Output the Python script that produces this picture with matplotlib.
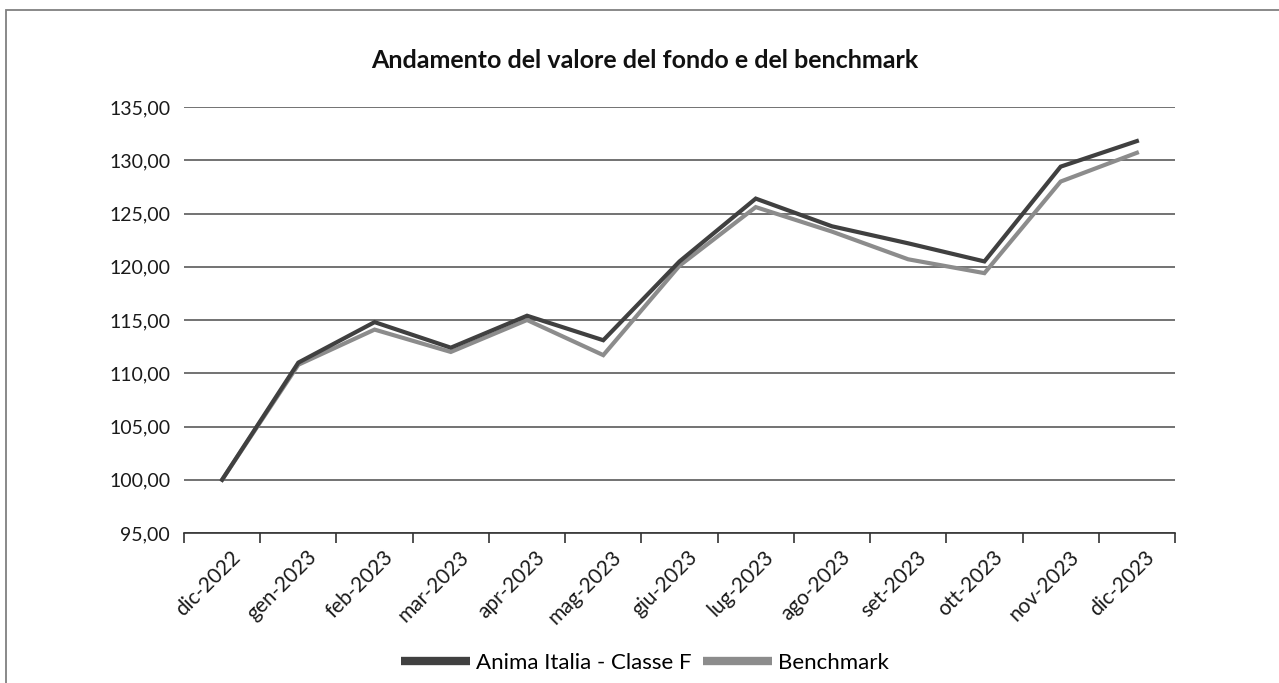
import matplotlib
matplotlib.use("Agg")
import matplotlib.pyplot as plt
from matplotlib.lines import Line2D
from matplotlib.patches import Rectangle
from matplotlib.ticker import FuncFormatter, FixedLocator, NullFormatter
from matplotlib.transforms import ScaledTranslation
import numpy as np

plt.rcParams['font.family'] = ['Lato', 'DejaVu Sans']

months = ["dic-2022", "gen-2023", "feb-2023", "mar-2023", "apr-2023", "mag-2023",
          "giu-2023", "lug-2023", "ago-2023", "set-2023", "ott-2023", "nov-2023", "dic-2023"]
fondo = [100.0, 111.0, 114.8, 112.4, 115.4, 113.1, 120.5, 126.4, 123.8, 122.2, 120.5, 129.4, 131.8]
benchmark = [100.0, 110.8, 114.1, 112.0, 115.0, 111.7, 120.1, 125.6, 123.3, 120.7, 119.4, 128.0, 130.7]
y_ticks = [95, 100, 105, 110, 115, 120, 125, 130, 135]

W, H = 1279, 683
fig = plt.figure(figsize=(W / 100, H / 100), dpi=100)
fig.patch.set_facecolor("white")

# outer chart frame
fig.add_artist(Rectangle((6 / W, -0.1), 1.2, (H - 10) / H + 0.1, transform=fig.transFigure,
                         fill=False, edgecolor="#808080", linewidth=1.3))

ax = fig.add_axes([184 / W, 150 / H, (1175 - 184) / W, 426 / H])
x = np.arange(len(months))
c_fondo = "#404040"
c_bench = "#8c8c8c"
ax.plot(x, benchmark, color=c_bench, linewidth=3, solid_joinstyle="miter", zorder=3)
ax.plot(x, fondo, color=c_fondo, linewidth=3, solid_joinstyle="miter", zorder=4)

ax.set_xlim(-0.5, len(months) - 0.5)
ax.set_ylim(95, 135)
ax.set_yticks(y_ticks)
ax.yaxis.set_major_formatter(FuncFormatter(lambda v, p: f"{v:.2f}".replace(".", ",")))
ax.grid(axis="y", color="#5a5a5a", linewidth=1.2, zorder=1)
ax.set_axisbelow(True)
for s in ["left", "right", "top"]:
    ax.spines[s].set_visible(False)
ax.spines["bottom"].set_color("#333333")
ax.spines["bottom"].set_linewidth(1.2)
ax.tick_params(axis="y", length=0, pad=10, labelsize=14, colors="#1a1a1a")

# category ticks sit between months; month labels are rotated under each point
ax.set_xticks(x)
ax.xaxis.set_major_formatter(NullFormatter())
ax.tick_params(axis="x", which="major", length=0)
ax.xaxis.set_minor_locator(FixedLocator(np.arange(-0.5, len(months), 1.0)))
ax.tick_params(axis="x", which="minor", length=7, width=1.2, color="#333333", direction="out")
label_tr = ax.get_xaxis_transform() + ScaledTranslation(15 / 100, -21 / 100, fig.dpi_scale_trans)
for xi, m in zip(x, months):
    ax.text(xi, 0, m, transform=label_tr, rotation=45, rotation_mode="anchor",
            ha="right", va="center", fontsize=15, color="#1a1a1a")

fig.text(645 / W, 1 - 60 / H, "Andamento del valore del fondo e del benchmark",
         ha="center", va="center", fontsize=18, fontweight="bold", color="#111111")

handles = [Line2D([], [], color=c_fondo, linewidth=6, solid_capstyle="butt"),
           Line2D([], [], color=c_bench, linewidth=6, solid_capstyle="butt")]
fig.legend(handles, ["Anima Italia - Classe F", "Benchmark"], loc="center",
           bbox_to_anchor=(645 / W, 1 - 663 / H), ncol=2, frameon=False, fontsize=16,
           handlelength=3.1, handletextpad=0.3, columnspacing=0.5)

fig.savefig("out.png", dpi=100, facecolor="white")
